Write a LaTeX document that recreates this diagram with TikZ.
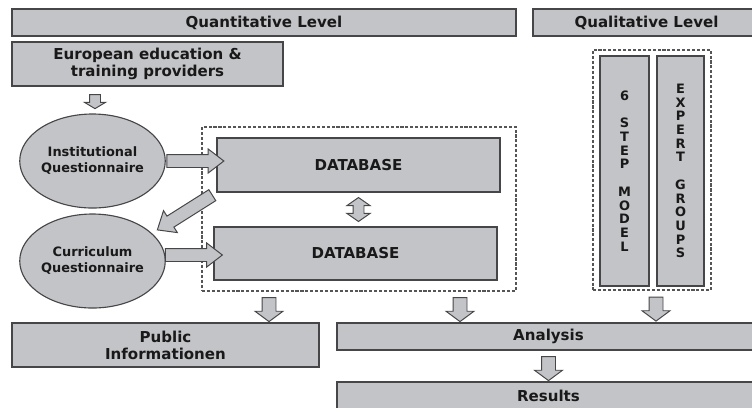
\documentclass[tikz,border=0pt]{standalone}
\usepackage{fontspec}
\setmainfont{DejaVu Sans}
\usetikzlibrary{shapes.geometric,shapes.arrows}
\definecolor{boxfill}{RGB}{195,196,199}
\definecolor{boxline}{RGB}{70,70,72}
\definecolor{dashline}{RGB}{85,85,88}
\tikzset{
	box/.style={draw=boxline, fill=boxfill, line width=0.8pt, inner sep=0pt, align=center, text=black!90, font=\bfseries\fontsize{10.7}{12}\selectfont},
	oval/.style={box, ellipse, font=\bfseries\fontsize{9.2}{11.4}\selectfont},
	letterbox/.style={box, font=\bfseries\fontsize{9.2}{9.74}\selectfont},
	dashframe/.style={draw=dashline, line width=0.8pt, dash pattern=on 2.2pt off 1.3pt, inner sep=0pt},
	fatarrow/.style={single arrow, draw=boxline, fill=boxfill, line width=0.7pt, inner xsep=0pt, sloped, allow upside down, anchor=center},
	downarrow/.style={fatarrow, minimum height=0.6cm, inner ysep=0.1625cm, single arrow head extend=0.175cm, single arrow tip angle=107},
	sidearrow/.style={fatarrow, minimum height=1.425cm, inner ysep=0.15cm, single arrow head extend=0.1375cm, single arrow tip angle=75},
	twinarrow/.style={double arrow, draw=boxline, fill=boxfill, line width=0.7pt, inner xsep=0pt, inner ysep=0.125cm, sloped, allow upside down, anchor=center, minimum height=0.6cm, double arrow head extend=0.15cm, double arrow tip angle=110}
}
\begin{document}
\begin{tikzpicture}
	\useasboundingbox (0,0) rectangle (18.8,-10.175);
	\node[box, minimum width=12.6cm, minimum height=0.675cm] (quanti) at (6.6,-0.5625) {Quantitative Level};
	\node[box, minimum width=5.675cm, minimum height=0.675cm] (quali) at (16.1625,-0.5625) {Qualitative Level};
	\node[box, minimum width=6.775cm, minimum height=1.1cm] (euro) at (3.6875,-1.6) {European education \&\\training providers};
	
	\node[oval, minimum width=3.125cm, minimum height=2.35cm] (inst) at (2.3125,-4.025) {Institutional\\Questionnaire};
	\node[oval, minimum width=3.125cm, minimum height=2.35cm] (curr) at (2.3125,-6.525) {Curriculum\\Questionnaire};
	
	\node[dashframe, minimum width=7.85cm, minimum height=4.1cm] (dbframe) at (8.975,-5.225) {};
	\node[box, minimum width=7.075cm, minimum height=1.35cm] (dbone) at (8.9625,-4.125) {DATABASE};
	\node[box, minimum width=7.075cm, minimum height=1.325cm] (dbtwo) at (8.8875,-6.3375) {DATABASE};
	
	\node[dashframe, minimum width=2.95cm, minimum height=6cm] (qualframe) at (16.3,-4.25) {};
	\node[letterbox, minimum width=1.225cm, minimum height=5.75cm] (stepmodel) at (15.6125,-4.275) {6\\[9.74pt]S\\T\\E\\P\\[9.74pt]M\\O\\D\\E\\L};
	\node[letterbox, minimum width=1.175cm, minimum height=5.75cm] (experts) at (17.0125,-4.275) {E\\X\\P\\E\\R\\T\\[9.74pt]G\\R\\O\\U\\P\\S};
	
	\node[box, minimum width=7.675cm, minimum height=1.1cm] (public) at (4.1375,-8.625) {Public\\Informationen};
	\node[box, minimum width=10.575cm, minimum height=0.675cm] (analysis) at (13.7125,-8.4125) {Analysis};
	\node[box, minimum width=10.575cm, minimum height=0.7cm] (results) at (13.7125,-9.9) {Results};
	
	\path ([xshift=-1.3125cm]euro.south) -- node[fatarrow, minimum height=0.35cm, inner ysep=0.125cm, single arrow head extend=0.125cm, single arrow tip angle=118] {} ([xshift=0.0625cm]inst.north);
	\path (inst.east) -- node[sidearrow] {} (inst.east -| dbone.west);
	\path ([yshift=0.15cm]curr.east) -- node[sidearrow] {} ([yshift=0.15cm]curr.east -| dbtwo.west);
	\path (dbone.south west) -- node[fatarrow, pos=0.44, minimum height=1.625cm, inner ysep=0.15cm, single arrow head extend=0.1625cm, single arrow tip angle=80] {} (curr.25);
	\path (dbone.south) -- node[twinarrow] {} (dbone.south |- dbtwo.north);
	
	\path ([xshift=-2.25cm]dbframe.south) -- node[downarrow] {} ([xshift=2.5875cm]public.north);
	\path ([xshift=2.525cm]dbframe.south) -- node[downarrow] {} ([xshift=-2.2125cm]analysis.north);
	\path ([xshift=0.1cm]qualframe.south) -- node[downarrow] {} ([xshift=2.6875cm]analysis.north);
	\path (analysis.south) -- node[downarrow] {} (results.north);
\end{tikzpicture}
\end{document}
